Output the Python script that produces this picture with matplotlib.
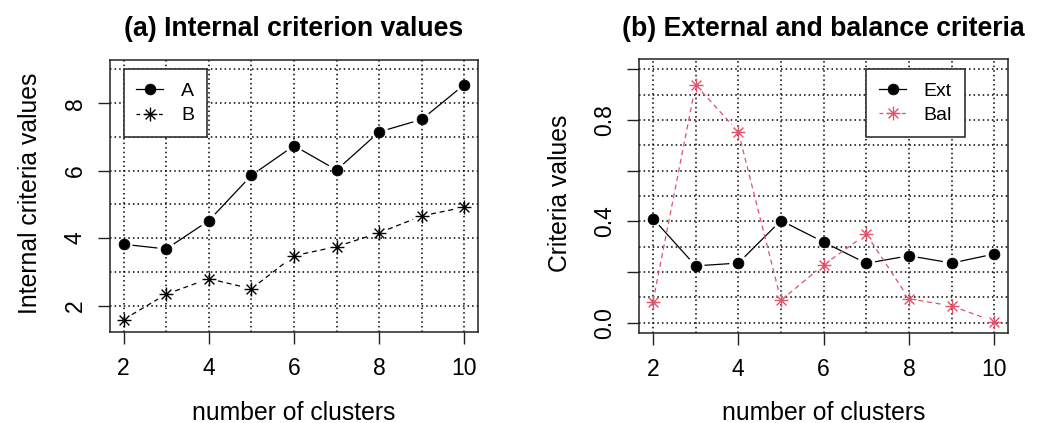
import numpy as np
import matplotlib
matplotlib.use("Agg")
import matplotlib.pyplot as plt
from matplotlib.path import Path
from matplotlib.lines import Line2D
from matplotlib.transforms import blended_transform_factory

plt.rcParams["font.family"] = ["Liberation Sans", "DejaVu Sans"]

# data
clusters = [2, 3, 4, 5, 6, 7, 8, 9, 10]
internal_a = [3.82, 3.68, 4.52, 5.86, 6.74, 6.02, 7.15, 7.52, 8.55]
internal_b = [1.59, 2.34, 2.80, 2.50, 3.48, 3.75, 4.16, 4.66, 4.92]
ext_vals = [0.411, 0.224, 0.235, 0.403, 0.318, 0.234, 0.264, 0.235, 0.271]
bal_vals = [0.082, 0.939, 0.754, 0.088, 0.228, 0.349, 0.094, 0.066, 0.004]

x_ticks = [2, 4, 6, 8, 10]
left_yticks = [2, 4, 6, 8]
right_yticks = [0.0, 0.2, 0.4, 0.6, 0.8, 1.0]
right_yticklabels = ["0.0", "", "0.4", "", "0.8", ""]

BAL_RED = "#DF536B"
TICK_FS = 16.5
LABEL_FS = 17.8
TITLE_FS = 19.2
LEGEND_FS = 14
GRID_LS = (0, (1, 2))

# R style asterisk (pch = 8): plus and times on top of each other
_verts, _codes = [], []
for ang in (0, 45, 90, 135):
    dx, dy = np.cos(np.radians(ang)), np.sin(np.radians(ang))
    _verts += [(-dx, -dy), (dx, dy)]
    _codes += [Path.MOVETO, Path.LINETO]
ASTERISK = Path(_verts, _codes)

DOT = dict(marker="o", markersize=7.8, markerfacecolor="black",
           markeredgecolor="black", markeredgewidth=0.5)


def star(color):
    return dict(marker=ASTERISK, markersize=10, markeredgecolor=color,
                markeredgewidth=1.0)


def gapped_line(ax, xs, ys, gap, **kw):
    # type="b" in R: segments stop short of the points
    pts = ax.transData.transform(np.column_stack([xs, ys]))
    inv = ax.transData.inverted()
    for p0, p1 in zip(pts[:-1], pts[1:]):
        d = p1 - p0
        length = np.hypot(*d)
        if length <= 2 * gap:
            continue
        u = d / length
        seg = inv.transform(np.array([p0 + u * gap, p1 - u * gap]))
        ax.plot(seg[:, 0], seg[:, 1], **kw)


def style_axes(ax, xlim, ylim, hgrid, vgrid):
    ax.set_xlim(*xlim)
    ax.set_ylim(*ylim)
    for v in vgrid:
        ax.axvline(v, color="black", lw=1.1, ls=GRID_LS, zorder=1)
    for h in hgrid:
        ax.axhline(h, color="black", lw=1.1, ls=GRID_LS, zorder=1)
    for sp in ax.spines.values():
        sp.set_linewidth(1.1)
        sp.set_color("#222222")
    ax.tick_params(axis="both", direction="out", length=8.6, width=1.0,
                   color="#222222", labelsize=TICK_FS)
    ax.tick_params(axis="x", pad=9.5)
    ax.tick_params(axis="y", pad=11.7)
    ax.set_xticks(x_ticks)


def rotate_yticklabels(ax):
    for lab in ax.get_yticklabels():
        lab.set_rotation(90)
        lab.set_rotation_mode("anchor")
        lab.set_ha("center")
        lab.set_va("baseline")


def add_labels(ax, fig, title, ylabel, ylabel_x):
    ax.set_title(title, fontsize=TITLE_FS, fontweight="bold", va="baseline",
                 y=1.0, pad=0)
    ax.title.set_transform(blended_transform_factory(ax.transAxes, fig.transFigure))
    ax.title.set_position((0.5, 1 - 36 / 423))
    ax.set_xlabel("number of clusters", fontsize=LABEL_FS, va="baseline")
    ax.xaxis.set_label_coords(0.5, 3.5 / 423,
                              transform=blended_transform_factory(ax.transAxes, fig.transFigure))
    ax.set_ylabel(ylabel, fontsize=LABEL_FS, va="baseline")
    ax.yaxis.set_label_coords(ylabel_x / 1041, 0.509,
                              transform=blended_transform_factory(fig.transFigure, ax.transAxes))


def add_legend(ax, handles, labels, anchor):
    leg = ax.legend(handles, labels, loc="upper left", bbox_to_anchor=anchor,
                    bbox_transform=ax.transData, borderaxespad=0, fontsize=LEGEND_FS,
                    fancybox=False, framealpha=1, edgecolor="#222222",
                    handlelength=1.4, handletextpad=0.9, borderpad=0.65,
                    labelspacing=0.36)
    leg.get_frame().set_linewidth(1.1)
    return leg


fig = plt.figure(figsize=(10.41, 4.23), dpi=100)
ax1 = fig.add_axes([110 / 1041, 1 - 332 / 423, 368 / 1041, 272 / 423])
ax2 = fig.add_axes([639.3 / 1041, 1 - 332.7 / 423, 368.7 / 1041, 273.4 / 423])

# (a) internal criterion
style_axes(ax1, (1.68, 10.32), (1.22, 9.28), np.arange(1, 10), np.arange(2, 11))
ax1.set_yticks(left_yticks)
rotate_yticklabels(ax1)
gapped_line(ax1, clusters, internal_a, 9.5, color="black", lw=0.9, zorder=2)
gapped_line(ax1, clusters, internal_b, 9.5, color="black", lw=0.9,
            ls=(0, (4, 3)), zorder=2)
ax1.plot(clusters, internal_a, ls="none", zorder=3, **DOT)
ax1.plot(clusters, internal_b, ls="none", zorder=3, **star("black"))
handles_a = [
    Line2D([], [], color="black", lw=0.9, **DOT),
    Line2D([], [], color="black", lw=0.9, ls=(0, (3, 3)), **star("black")),
]
add_legend(ax1, handles_a, ["A", "B"], (2, 9))
add_labels(ax1, fig, "(a) Internal criterion values", "Internal criteria values", 36.7)

# (b) external and balance criteria
style_axes(ax2, (1.68, 10.32), (-0.04, 1.04), np.arange(0, 11) / 10, np.arange(2, 11))
ax2.set_yticks(right_yticks)
ax2.set_yticklabels(right_yticklabels)
rotate_yticklabels(ax2)
gapped_line(ax2, clusters, ext_vals, 9.5, color="black", lw=0.9, zorder=2)
gapped_line(ax2, clusters, bal_vals, 9.5, color=BAL_RED, lw=0.9,
            ls=(0, (4, 3)), zorder=2)
ax2.plot(clusters, ext_vals, ls="none", zorder=3, **DOT)
ax2.plot(clusters, bal_vals, ls="none", zorder=3, **star(BAL_RED))
handles_b = [
    Line2D([], [], color="black", lw=0.9, **DOT),
    Line2D([], [], color=BAL_RED, lw=0.9, ls=(0, (3, 3)), **star(BAL_RED)),
]
add_legend(ax2, handles_b, ["Ext", "Bal"], (7, 1.0))
add_labels(ax2, fig, "(b) External and balance criteria", "Criteria values", 567)

fig.savefig("out.png", dpi=100)
